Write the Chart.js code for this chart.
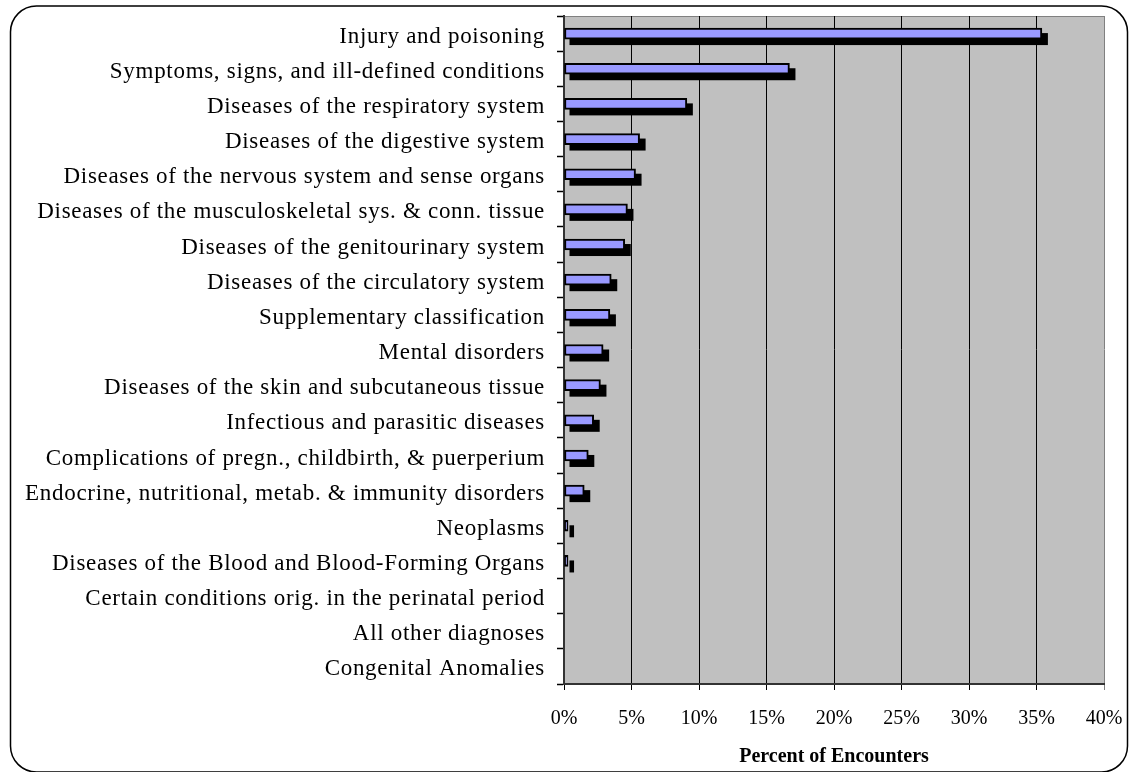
<!DOCTYPE html>
<html>
<head>
<meta charset="utf-8">
<script src="https://cdn.jsdelivr.net/npm/chart.js@4.4.0/dist/chart.umd.min.js"></script>
<style>
  html, body { margin: 0; padding: 0; background: #fff; }
  #myChart { display: block; }
</style>
</head>
<body>
<canvas id="myChart" width="1132" height="772"></canvas>
<script>
const categories = [
  "Injury and poisoning",
  "Symptoms, signs, and ill-defined conditions",
  "Diseases of the respiratory system",
  "Diseases of the digestive system",
  "Diseases of the nervous system and sense organs",
  "Diseases of the musculoskeletal sys. & conn. tissue",
  "Diseases of the genitourinary system",
  "Diseases of the circulatory system",
  "Supplementary classification",
  "Mental disorders",
  "Diseases of the skin and subcutaneous tissue",
  "Infectious and parasitic diseases",
  "Complications of pregn., childbirth, & puerperium",
  "Endocrine, nutritional, metab. & immunity disorders",
  "Neoplasms",
  "Diseases of the Blood and Blood-Forming Organs",
  "Certain conditions orig. in the perinatal period",
  "All other diagnoses",
  "Congenital Anomalies"
];
const percentEncounters = [35.4, 16.7, 9.1, 5.6, 5.3, 4.7, 4.5, 3.5, 3.4, 2.9, 2.7, 2.2, 1.8, 1.5, 0.3, 0.3, 0, 0, 0];
const xTickValues = [0, 5, 10, 15, 20, 25, 30, 35, 40];

const serif = "'Liberation Serif', 'Times New Roman', serif";

// grey plot area + rounded frame round the whole picture
const plotBackground = {
  id: "plotBackground",
  beforeDraw(chart) {
    const { ctx, chartArea } = chart;
    ctx.save();
    ctx.fillStyle = "#c0c0c0";
    ctx.fillRect(chartArea.left, chartArea.top, chartArea.right - chartArea.left, chartArea.bottom - chartArea.top);
    ctx.strokeStyle = "#808080";
    ctx.lineWidth = 1;
    ctx.beginPath();
    ctx.moveTo(chartArea.left, chartArea.top + 0.5);
    ctx.lineTo(chartArea.right, chartArea.top + 0.5);
    ctx.stroke();
    ctx.restore();

    // category labels are spaced out a bit like the original
    const y = chart.scales.y;
    if (y && !y._spaced) {
      const origLabels = y.drawLabels;
      y.drawLabels = function (area) {
        this.ctx.save();
        this.ctx.letterSpacing = "0.7px";
        origLabels.call(this, area);
        this.ctx.restore();
      };
      y._spaced = true;
    }
  },
  afterDraw(chart) {
    const ctx = chart.ctx;
    ctx.save();
    ctx.strokeStyle = "#000";
    ctx.lineWidth = 1.5;
    ctx.beginPath();
    ctx.roundRect(10.5, 6, 1117, 766, 26);
    ctx.stroke();
    ctx.restore();
  }
};

// hard black shadow under every bar, taken from the bar elements
const barShadow = {
  id: "barShadow",
  beforeDatasetDraw(chart, args) {
    const ctx = chart.ctx;
    const area = chart.chartArea;
    ctx.save();
    ctx.beginPath();
    ctx.rect(area.left, area.top, area.right - area.left, area.bottom - area.top);
    ctx.clip();
    ctx.fillStyle = "#000";
    args.meta.data.forEach((bar) => {
      const p = bar.getProps(["x", "y", "base", "height"], true);
      const w = p.x - p.base;
      if (w <= 0.5) return;
      ctx.fillRect(p.base + 5, p.y - p.height / 2 + 5, w + 1, p.height + 1);
    });
    ctx.restore();
  }
};

const data = {
  labels: categories,
  datasets: [
    {
      label: "Percent of Encounters",
      data: percentEncounters,
      backgroundColor: "#9999ff",
      borderColor: "#000",
      borderWidth: 2,
      borderSkipped: false,
      barThickness: 11
    }
  ]
};

const config = {
  type: "bar",
  data,
  options: {
    indexAxis: "y",
    responsive: false,
    animation: false,
    layout: { padding: { top: 16, right: 28, left: 0, bottom: 0 } },
    plugins: {
      legend: { display: false },
      tooltip: { enabled: false }
    },
    scales: {
      x: {
        min: 0,
        max: 40,
        afterBuildTicks(scale) {
          scale.ticks = xTickValues.map((v) => ({ value: v }));
        },
        ticks: {
          callback: (v) => v + "%",
          color: "#000",
          font: { family: serif, size: 20 },
          padding: 17,
          maxRotation: 0
        },
        grid: {
          color: (c) => (c.index === xTickValues.length - 1 ? "#808080" : "#000"),
          lineWidth: 1,
          tickLength: 6
        },
        border: { color: "#333", width: 2 },
        title: {
          display: true,
          text: "Percent of Encounters",
          color: "#000",
          font: { family: serif, size: 20, weight: "bold" },
          padding: { top: 0, bottom: 3 }
        },
        afterFit(scale) {
          scale.height = 88;
          scale.paddingLeft = 0;
          scale.paddingRight = 0;
        }
      },
      y: {
        grid: {
          offset: true,
          drawOnChartArea: false,
          color: "#000",
          tickLength: 7,
          tickWidth: 1.5
        },
        border: { color: "#333", width: 2 },
        ticks: {
          autoSkip: false,
          color: "#000",
          font: { family: serif, size: 23 },
          padding: 12,
          labelOffset: 3
        },
        afterFit(scale) {
          scale.width = 564;
          scale.paddingTop = 0;
          scale.paddingBottom = 0;
        }
      }
    }
  },
  plugins: [plotBackground, barShadow]
};

const myChart = new Chart(document.getElementById("myChart"), config);
myChart.draw();
</script>
</body>
</html>
